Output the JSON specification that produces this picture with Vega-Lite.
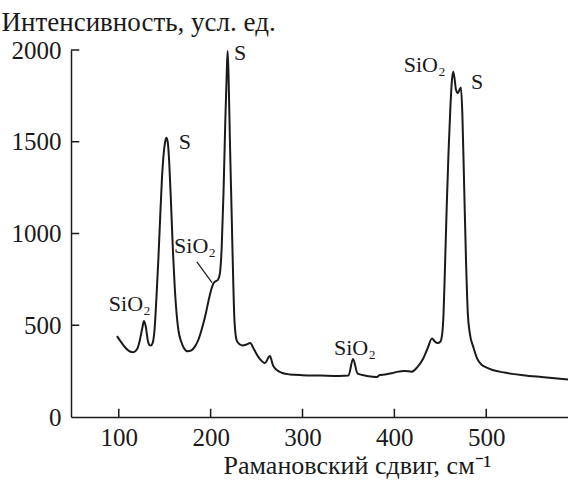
{
  "$schema": "https://vega.github.io/schema/vega-lite/v6.json",
  "width": 497,
  "height": 367,
  "autosize": {"type": "none"},
  "padding": {"left": 71, "top": 50, "right": 0, "bottom": 64},
  "background": "white",
  "config": {
    "view": {"stroke": null},
    "font": "Liberation Serif",
    "axis": {
      "grid": false,
      "ticks": false,
      "domainColor": "#1a1a1a",
      "domainWidth": 1.5,
      "labelFont": "Liberation Serif",
      "labelFontSize": 25,
      "labelColor": "#1a1a1a",
      "titleFont": "Liberation Serif",
      "titleFontSize": 27,
      "titleFontWeight": "normal",
      "titleColor": "#1a1a1a"
    }
  },
  "datasets": {
    "spectrum": [
      {"shift": 98, "intensity": 441},
      {"shift": 103, "intensity": 405},
      {"shift": 108, "intensity": 373},
      {"shift": 112, "intensity": 357},
      {"shift": 116, "intensity": 353},
      {"shift": 120, "intensity": 370},
      {"shift": 123, "intensity": 420},
      {"shift": 125.5, "intensity": 482},
      {"shift": 127.5, "intensity": 523},
      {"shift": 129.5, "intensity": 490},
      {"shift": 131.5, "intensity": 420},
      {"shift": 133.5, "intensity": 392},
      {"shift": 135, "intensity": 390},
      {"shift": 137, "intensity": 405},
      {"shift": 139, "intensity": 480},
      {"shift": 141, "intensity": 650},
      {"shift": 143, "intensity": 850},
      {"shift": 145, "intensity": 1080},
      {"shift": 147, "intensity": 1300},
      {"shift": 149, "intensity": 1440},
      {"shift": 150.5, "intensity": 1500},
      {"shift": 152, "intensity": 1522},
      {"shift": 153.5, "intensity": 1490},
      {"shift": 155, "intensity": 1380},
      {"shift": 157, "intensity": 1150},
      {"shift": 159, "intensity": 900},
      {"shift": 161, "intensity": 700},
      {"shift": 163, "intensity": 560},
      {"shift": 165, "intensity": 470},
      {"shift": 168, "intensity": 410},
      {"shift": 171, "intensity": 375},
      {"shift": 175, "intensity": 358},
      {"shift": 179, "intensity": 363},
      {"shift": 183, "intensity": 385},
      {"shift": 187, "intensity": 425},
      {"shift": 191, "intensity": 490},
      {"shift": 195, "intensity": 570},
      {"shift": 198, "intensity": 640},
      {"shift": 201, "intensity": 700},
      {"shift": 203, "intensity": 728},
      {"shift": 205, "intensity": 738},
      {"shift": 208, "intensity": 748},
      {"shift": 210, "intensity": 780},
      {"shift": 212, "intensity": 920},
      {"shift": 214, "intensity": 1220},
      {"shift": 216, "intensity": 1620},
      {"shift": 217.5, "intensity": 1870},
      {"shift": 218.5, "intensity": 1995},
      {"shift": 219.5, "intensity": 1860},
      {"shift": 221, "intensity": 1500},
      {"shift": 223, "intensity": 1080},
      {"shift": 224.5, "intensity": 760},
      {"shift": 226, "intensity": 520},
      {"shift": 228.5, "intensity": 415},
      {"shift": 232, "intensity": 395},
      {"shift": 235, "intensity": 390},
      {"shift": 239, "intensity": 395},
      {"shift": 243, "intensity": 403},
      {"shift": 247, "intensity": 370},
      {"shift": 253, "intensity": 320},
      {"shift": 259, "intensity": 294},
      {"shift": 264.5, "intensity": 332},
      {"shift": 268, "intensity": 280},
      {"shift": 272, "intensity": 256},
      {"shift": 278, "intensity": 240},
      {"shift": 286, "intensity": 232},
      {"shift": 300, "intensity": 228},
      {"shift": 320, "intensity": 226},
      {"shift": 340, "intensity": 224},
      {"shift": 350, "intensity": 226},
      {"shift": 355, "intensity": 316},
      {"shift": 360, "intensity": 236},
      {"shift": 370, "intensity": 224},
      {"shift": 381, "intensity": 218},
      {"shift": 384, "intensity": 229},
      {"shift": 390, "intensity": 232},
      {"shift": 397, "intensity": 238},
      {"shift": 403, "intensity": 246},
      {"shift": 411, "intensity": 251},
      {"shift": 419, "intensity": 247},
      {"shift": 425, "intensity": 272},
      {"shift": 431, "intensity": 315},
      {"shift": 436, "intensity": 372},
      {"shift": 441, "intensity": 428},
      {"shift": 444, "intensity": 412},
      {"shift": 447, "intensity": 403},
      {"shift": 450, "intensity": 410},
      {"shift": 452, "intensity": 450},
      {"shift": 453.5, "intensity": 560},
      {"shift": 455, "intensity": 800},
      {"shift": 457, "intensity": 1150},
      {"shift": 459, "intensity": 1450},
      {"shift": 461, "intensity": 1690},
      {"shift": 462.5, "intensity": 1825},
      {"shift": 464, "intensity": 1882},
      {"shift": 465.5, "intensity": 1845},
      {"shift": 467, "intensity": 1785},
      {"shift": 469, "intensity": 1766},
      {"shift": 471, "intensity": 1785},
      {"shift": 472.5, "intensity": 1795},
      {"shift": 474, "intensity": 1650},
      {"shift": 476, "intensity": 1250},
      {"shift": 478, "intensity": 850},
      {"shift": 480, "intensity": 560},
      {"shift": 482, "intensity": 460},
      {"shift": 486, "intensity": 380},
      {"shift": 490, "intensity": 320},
      {"shift": 495, "intensity": 285},
      {"shift": 500, "intensity": 270},
      {"shift": 507, "intensity": 256},
      {"shift": 520, "intensity": 242},
      {"shift": 540, "intensity": 228},
      {"shift": 560, "intensity": 218},
      {"shift": 589, "intensity": 205}
    ],
    "labels": [
      {"shift": 112, "intensity": 618, "label": "SiO₂"},
      {"shift": 172, "intensity": 1500, "label": "S"},
      {"shift": 183, "intensity": 930, "label": "SiO₂"},
      {"shift": 232, "intensity": 1983, "label": "S"},
      {"shift": 357, "intensity": 376, "label": "SiO₂"},
      {"shift": 433, "intensity": 1918, "label": "SiO₂"},
      {"shift": 490, "intensity": 1826, "label": "S"}
    ],
    "leader": [
      {"x1": 185, "y1": 845, "x2": 201.5, "y2": 732}
    ],
    "xticks": [{"v": 100}, {"v": 200}, {"v": 300}, {"v": 400}, {"v": 500}],
    "yticks": [{"v": 500}, {"v": 1000}, {"v": 1500}, {"v": 2000}]
  },
  "layer": [
    {
      "data": {"name": "spectrum"},
      "mark": {"type": "line", "color": "#1a1a1a", "strokeWidth": 2, "interpolate": "monotone"},
      "encoding": {
        "x": {
          "field": "shift",
          "type": "quantitative",
          "scale": {"domain": [48, 589], "nice": false, "zero": false},
          "axis": {
            "values": [100, 200, 300, 400, 500],
            "format": "d",
            "labelBaseline": "alphabetic",
            "labelPadding": 28,
            "title": "Рамановский сдвиг, см⁻¹",
            "titleFontSize": 26,
            "titleAnchor": "start",
            "titleAlign": "center",
            "titleX": 286,
            "titleY": 56,
            "titleBaseline": "alphabetic"
          }
        },
        "y": {
          "field": "intensity",
          "type": "quantitative",
          "scale": {"domain": [0, 2000], "nice": false},
          "axis": {
            "values": [0, 500, 1000, 1500, 2000],
            "format": "d",
            "labelPadding": 10,
            "title": "Интенсивность, усл. ед.",
            "titleAngle": 0,
            "titleAlign": "left",
            "titleAnchor": "start",
            "titleX": -70,
            "titleY": -20,
            "titleBaseline": "alphabetic"
          }
        }
      }
    },
    {
      "data": {"name": "xticks"},
      "mark": {"type": "rule", "color": "#1a1a1a", "strokeWidth": 1.5},
      "encoding": {
        "x": {"field": "v", "type": "quantitative"},
        "y": {"datum": 0},
        "y2": {"datum": 45}
      }
    },
    {
      "data": {"name": "yticks"},
      "mark": {"type": "rule", "color": "#1a1a1a", "strokeWidth": 1.5},
      "encoding": {
        "y": {"field": "v", "type": "quantitative"},
        "x": {"datum": 48},
        "x2": {"datum": 57}
      }
    },
    {
      "data": {"name": "leader"},
      "mark": {"type": "rule", "color": "#1a1a1a", "strokeWidth": 1.2},
      "encoding": {
        "x": {"field": "x1", "type": "quantitative"},
        "y": {"field": "y1", "type": "quantitative"},
        "x2": {"field": "x2"},
        "y2": {"field": "y2"}
      }
    },
    {
      "data": {"name": "labels"},
      "mark": {"type": "text", "font": "Liberation Serif", "fontSize": 22, "color": "#1a1a1a", "align": "center", "baseline": "middle"},
      "encoding": {
        "x": {"field": "shift", "type": "quantitative"},
        "y": {"field": "intensity", "type": "quantitative"},
        "text": {"field": "label"}
      }
    }
  ]
}
